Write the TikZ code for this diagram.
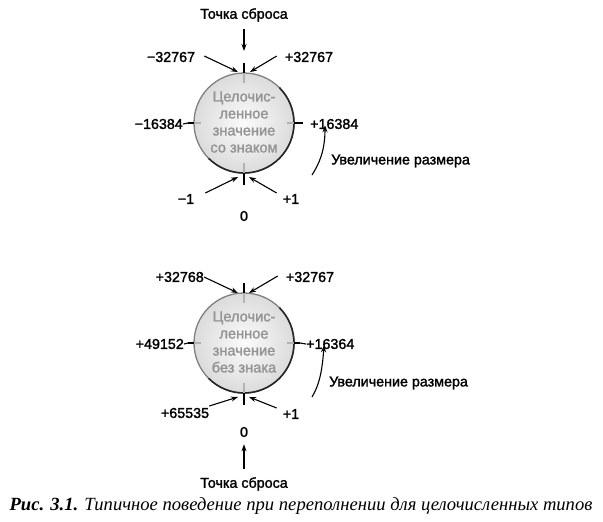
\documentclass[tikz,border=0pt]{standalone}
\usepackage{fontspec}
\setmainfont{Liberation Sans}
\newfontfamily\lblfont[FakeBold=1.6]{Liberation Sans}
\newfontfamily\capfont{Liberation Serif}
\usetikzlibrary{arrows.meta}
\begin{document}
\begin{tikzpicture}[x=1pt,y=-1pt,
  lbl/.style={font=\lblfont\fontsize{14.3}{16}\selectfont, inner sep=0pt},
  arr/.style={-{Stealth[length=7pt,width=5pt]}, line width=1.1pt},
  intext/.style={font=\lblfont\fontsize{14.6}{17}\selectfont, text=black!42, align=center, inner sep=0pt},
  dialfill/.style={inner color=gray!3, outer color=gray!28},
  rimlight/.style={draw=black!50, line width=1.3pt},
  rimdark/.style={draw=black!85, line width=1.6pt},
  tickout/.style={line width=1.1pt, black},
  tickin/.style={line width=1.1pt, black!30},
]
\useasboundingbox (0,0) rectangle (603,522);

% ================= top dial =================
\coordinate (c1) at (244,123);
\shade[dialfill] (c1) circle[radius=50pt];
\draw[rimlight] (c1) circle[radius=50pt];
\draw[rimdark] ([shift={(225:50pt)}]c1) arc[start angle=225, end angle=405, radius=50pt];
% ticks
\draw[tickout] (244,63) -- (244,73);  \draw[tickin] (244,73) -- (244,83);
\draw[tickout] (244,185) -- (244,173); \draw[tickin] (244,173) -- (244,163);
\draw[tickout] (188,123) -- (194,123); \draw[tickin] (194,123) -- (201,123);
\draw[tickout] (303,123) -- (294,123); \draw[tickin] (294,123) -- (287,123);
\node[intext] (d1) at (244,122) {Целочис-\\ленное\\значение\\со знаком};

\node[lbl] (r1) at (244,15) {Точка сброса};
\coordinate (r1t) at (244,51);
\draw[arr] ([yshift=-7pt]r1.south) -- (r1t);

\node[lbl] (m32) at (171,57) {−32767};
\coordinate (m32t) at (238,72);
\draw[arr] ([xshift=9pt,yshift=1pt]m32.east) -- (m32t);

\node[lbl] (p32) at (309,57) {+32767};
\coordinate (p32t) at (250,72);
\draw[arr] ([xshift=-8pt,yshift=1pt]p32.west) -- (p32t);

\node[lbl, anchor=east] (m16) at (183,124) {−16384};
\draw[tickout] (m16.east) -- (188,123);
\node[lbl, anchor=west] (p16) at (310,124) {+16384};

\node[lbl, anchor=west] (g1) at (331,161) {Увеличение размера};
\coordinate (g1s) at (312,175);
\draw[arr] (g1s) .. controls (319,164) and (325,151) .. ([xshift=15pt,yshift=4pt]p16.south west);

\node[lbl] (m1) at (186,199) {−1};
\coordinate (m1t) at (238,177);
\draw[arr] ([xshift=11pt,yshift=6pt]m1.east) -- (m1t);

\node[lbl] (p1) at (291,199) {+1};
\coordinate (p1t) at (249,177);
\draw[arr] ([xshift=-6pt,yshift=6pt]p1.west) -- (p1t);

\node[lbl] (z1) at (244,216) {0};

% ================= bottom dial =================
\coordinate (c2) at (244,343);
\shade[dialfill] (c2) circle[radius=50pt];
\draw[rimlight] (c2) circle[radius=50pt];
\draw[rimdark] ([shift={(225:50pt)}]c2) arc[start angle=225, end angle=405, radius=50pt];
\draw[tickout] (244,283) -- (244,293);  \draw[tickin] (244,293) -- (244,303);
\draw[tickout] (244,405) -- (244,393); \draw[tickin] (244,393) -- (244,383);
\draw[tickout] (188,343) -- (194,343); \draw[tickin] (194,343) -- (201,343);
\draw[tickout] (300,343) -- (294,343); \draw[tickin] (294,343) -- (287,343);
\node[intext] (d2) at (244,342) {Целочис-\\ленное\\значение\\без знака};

\node[lbl, anchor=east] (q32) at (204,277) {+32768};
\coordinate (q32t) at (238,293);
\draw[arr] (q32.east) -- (q32t);

\node[lbl] (s32) at (310,277) {+32767};
\coordinate (s32t) at (249,293);
\draw[arr] ([xshift=-8pt,yshift=1pt]s32.west) -- (s32t);

\node[lbl, anchor=east] (q49) at (184,344) {+49152};
\draw[tickout] (q49.east) -- (188,343);
\node[lbl, anchor=west] (s16) at (306,344) {+16364};
\draw[tickout] (300,343) -- (s16.west);

\node[lbl, anchor=west] (g2) at (329,383) {Увеличение размера};
\coordinate (g2s) at (312,397);
\draw[arr] (g2s) .. controls (318,387) and (322,375) .. ([xshift=18pt,yshift=4pt]s16.south west);

\node[lbl] (q65) at (185,413) {+65535};
\coordinate (q65t) at (238,397);
\draw[arr] ([xshift=0pt,yshift=7pt]q65.east) -- (q65t);

\node[lbl] (s1) at (291,414) {+1};
\coordinate (s1t) at (249,397);
\draw[arr] ([xshift=-6pt,yshift=6pt]s1.west) -- (s1t);

\node[lbl] (z2) at (244,432) {0};
\node[lbl] (r2) at (244,484) {Точка сброса};
\draw[arr] ([yshift=8pt]r2.north) -- ([yshift=-7pt]z2.south);

% ================= caption =================
\node[inner sep=0pt] (cap) at (301,506) {\capfont\fontsize{18.6}{21}\selectfont\itshape\bfseries Рис. 3.1. \mdseries Типичное поведение при переполнении для целочисленных типов};
\end{tikzpicture}
\end{document}
